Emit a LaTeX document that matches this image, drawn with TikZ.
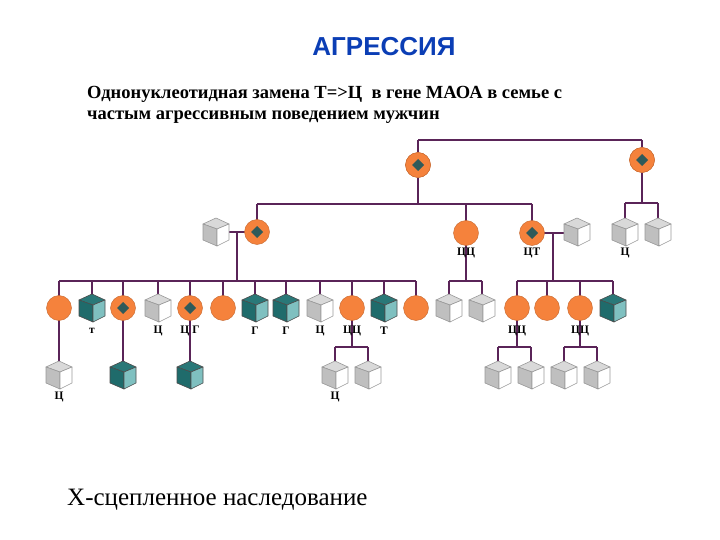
\documentclass[tikz,border=0pt]{standalone}
\usepackage{fontspec}
\setmainfont{Liberation Serif}
\newfontfamily\sansf{Liberation Sans}
\definecolor{ln}{HTML}{5A2458}
\definecolor{org}{HTML}{F5823C}
\definecolor{dk}{HTML}{2F5A5A}
\definecolor{tdk}{HTML}{1F6B6B}
\definecolor{tlt}{HTML}{7FC0C0}
\definecolor{ttop}{HTML}{2A7878}
\definecolor{ttl}{HTML}{0B3EB5}
\newcommand\cub[4]{%
  \node[minimum size=26pt,inner sep=0pt] (#1) at (#2,#3) {};
  \begin{scope}[shift={(#2,#3)},draw=#4E,line width=0.6pt,line join=round]
    \filldraw[fill=#4T] (0,-14)--(13,-8)--(1,-3)--(-13,-8)--cycle;
    \filldraw[fill=#4L] (-13,-8)--(1,-3)--(1,14)--(-13,8)--cycle;
    \filldraw[fill=#4R] (1,-3)--(13,-8)--(13,8)--(1,14)--cycle;
  \end{scope}}
\colorlet{gT}{gray!30}\colorlet{gL}{gray!50}\colorlet{gR}{white}\colorlet{gE}{gray!80}
\colorlet{tT}{ttop}\colorlet{tL}{tdk}\colorlet{tR}{tlt}\colorlet{tE}{black!70}
\newcommand\fem[3]{\node[fem] (#1) at (#2,#3) {};}
\newcommand\femd[3]{\node[fem] (#1) at (#2,#3) {};
  \fill[dk] (#2,#3) ++(0,-6)--++(6,6)--++(-6,6)--++(-6,-6)--cycle;}
\begin{document}
\begin{tikzpicture}[x=1pt,y=-1pt,
  fem/.style={circle,fill=org,draw=org!80!black,line width=0.4pt,minimum size=25pt,inner sep=0pt},
  con/.style={draw=ln,line width=1.3pt},
  lab/.style={font=\bfseries\fontsize{11.5}{12}\selectfont,inner sep=0pt}]
\useasboundingbox (0,0) rectangle (720,540);
\node[font=\sansf\bfseries\fontsize{26}{29}\selectfont,text=ttl] (title) at (384,47) {АГРЕССИЯ};
\node[font=\bfseries\fontsize{18.5}{21}\selectfont,anchor=north west,align=left,inner sep=0pt] (sub) at (87,86) {Однонуклеотидная замена Т=>Ц\ \ в гене МАОА в семье с\\частым агрессивным поведением мужчин};
\node[font=\fontsize{25}{28}\selectfont,anchor=west,inner sep=0pt] (foot) at (67,500) {Х-сцепленное наследование};
\coordinate (b1) at (400,204);
\coordinate (b2) at (640,203);
\coordinate (b3) at (237,281);
\coordinate (b4) at (466,281);
\coordinate (b5) at (553,281);
\coordinate (b6) at (352,347);
\coordinate (b7) at (517,347);
\coordinate (b8) at (580,347);
\femd{gm}{418}{165}
\femd{gm2}{642}{160}
\draw[con] (418,140) -- (642,140);
\draw[con] (gm) -- (gm|-b1);
\draw[con] (gm2) -- (gm2|-b2);
\draw[con] (257,204) -- (532,204);
\draw[con] (257,204) -- (257,232);
\draw[con] (466,204) -- (466,233);
\draw[con] (532,204) -- (532,233);
\draw[con] (418,140) -- (gm);
\draw[con] (642,140) -- (gm2);
\draw[con] (625,203) -- (658,203);
\draw[con] (625,203) -- (625,232);
\draw[con] (658,203) -- (658,232);
\draw[con] (216,232) -- (257,232);
\draw[con] (237,232) -- (b3);
\draw[con] (532,233) -- (577,233);
\draw[con] (553,233) -- (b5);
\draw[con] (466,233) -- (b4);
\draw[con] (59,281) -- (416,281);
\foreach \x in {59,92,123,158,190,223,255,286,320,352,384,416} \draw[con] (\x,281) -- (\x,300);
\draw[con] (449,281) -- (482,281);
\foreach \x in {449,482} \draw[con] (\x,281) -- (\x,300);
\draw[con] (517,281) -- (613,281);
\foreach \x in {517,547,580,613} \draw[con] (\x,281) -- (\x,300);
\draw[con] (59,308) -- (59,370);
\draw[con] (123,308) -- (123,370);
\draw[con] (190,308) -- (190,370);
\draw[con] (352,308) -- (b6);
\draw[con] (335,347) -- (368,347);
\foreach \x in {335,368} \draw[con] (\x,347) -- (\x,368);
\draw[con] (517,308) -- (b7);
\draw[con] (498,347) -- (531,347);
\foreach \x in {498,531} \draw[con] (\x,347) -- (\x,368);
\draw[con] (580,308) -- (b8);
\draw[con] (564,347) -- (597,347);
\foreach \x in {564,597} \draw[con] (\x,347) -- (\x,368);
\femd{gmA}{418}{165}
\femd{gm2A}{642}{160}
\cub{h1}{216}{232}{g}
\femd{m1}{257}{232}
\fem{m2}{466}{233}
\femd{m3}{532}{233}
\cub{h2}{577}{232}{g}
\cub{s1}{625}{232}{g}
\cub{s2}{658}{232}{g}
\fem{c1}{59}{308}
\cub{c2}{92}{308}{t}
\femd{c3}{123}{308}
\cub{c4}{158}{308}{g}
\femd{c5}{190}{308}
\fem{c6}{223}{308}
\cub{c7}{255}{308}{t}
\cub{c8}{286}{308}{t}
\cub{c9}{320}{308}{g}
\fem{c10}{352}{308}
\cub{c11}{384}{308}{t}
\fem{c12}{416}{308}
\cub{d1}{449}{308}{g}
\cub{d2}{482}{308}{g}
\fem{e1}{517}{308}
\fem{e2}{547}{308}
\fem{e3}{580}{308}
\cub{e4}{613}{308}{t}
\cub{f1}{59}{375}{g}
\cub{f2}{123}{375}{t}
\cub{f3}{190}{375}{t}
\cub{f4}{335}{375}{g}
\cub{f5}{368}{375}{g}
\cub{f6}{498}{375}{g}
\cub{f7}{531}{375}{g}
\cub{f8}{564}{375}{g}
\cub{f9}{597}{375}{g}
\node[lab] (l1) at (466,253) {ЦЦ};
\node[lab] (l2) at (532,253) {ЦТ};
\node[lab] (l3) at (625,253) {Ц};
\node[lab] (l4) at (92,331) {т};
\node[lab] (l5) at (158,331) {Ц};
\node[lab] (l6) at (190,331) {Ц Г};
\node[lab] (l7) at (255,331) {Г};
\node[lab] (l8) at (286,331) {Г};
\node[lab] (l9) at (320,331) {Ц};
\node[lab] (l10) at (352,331) {ЦЦ};
\node[lab] (l11) at (384,331) {Т};
\node[lab] (l12) at (517,331) {ЦЦ};
\node[lab] (l13) at (580,331) {ЦЦ};
\node[lab] (l14) at (59,397) {Ц};
\node[lab] (l15) at (335,397) {Ц};
\end{tikzpicture}
\end{document}
